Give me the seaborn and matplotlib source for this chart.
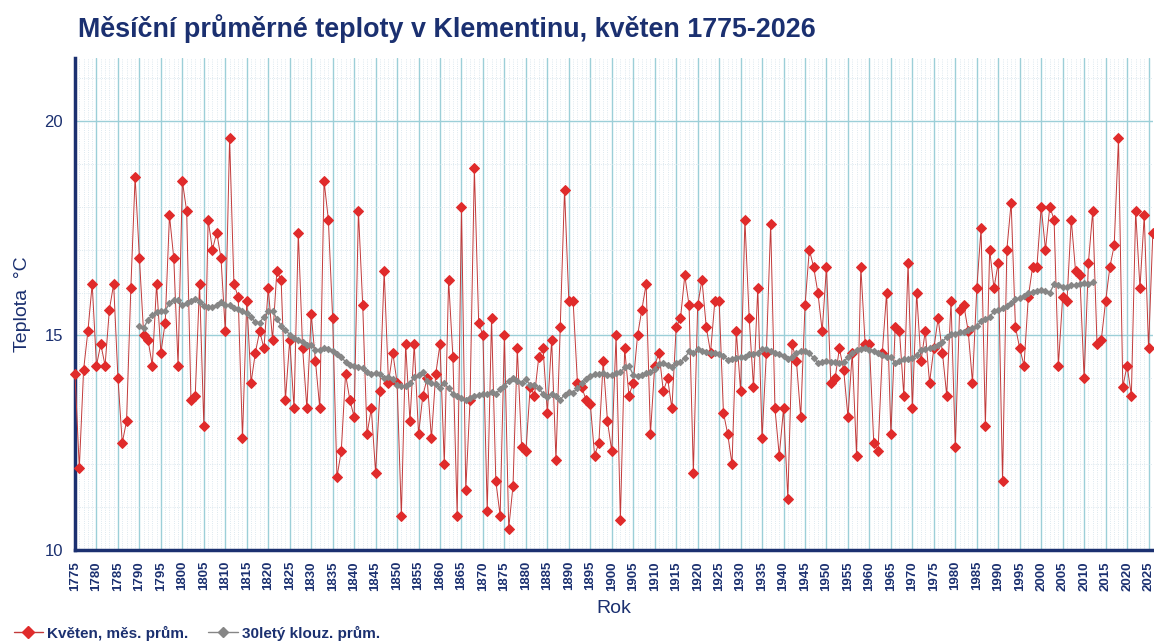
# Klementinum - květen, měsíční průměry a 30letý klouzavý průměr
import matplotlib
matplotlib.use('Agg')
import matplotlib.pyplot as plt
from matplotlib.ticker import MultipleLocator
from matplotlib.lines import Line2D
import pandas as pd
import seaborn as sns

# data
years = list(range(1775, 2027))
kveten = [
    14.1, 11.9, 14.2, 15.1, 16.2, 14.3, 14.8, 14.3, 15.6, 16.2,
    14.0, 12.5, 13.0, 16.1, 18.7, 16.8, 15.0, 14.9, 14.3, 16.2,
    14.6, 15.3, 17.8, 16.8, 14.3, 18.6, 17.9, 13.5, 13.6, 16.2,
    12.9, 17.7, 17.0, 17.4, 16.8, 15.1, 19.6, 16.2, 15.9, 12.6,
    15.8, 13.9, 14.6, 15.1, 14.7, 16.1, 14.9, 16.5, 16.3, 13.5,
    14.9, 13.3, 17.4, 14.7, 13.3, 15.5, 14.4, 13.3, 18.6, 17.7,
    15.4, 11.7, 12.3, 14.1, 13.5, 13.1, 17.9, 15.7, 12.7, 13.3,
    11.8, 13.7, 16.5, 13.9, 14.6, 13.9, 10.8, 14.8, 13.0, 14.8,
    12.7, 13.6, 14.0, 12.6, 14.1, 14.8, 12.0, 16.3, 14.5, 10.8,
    18.0, 11.4, 13.5, 18.9, 15.3, 15.0, 10.9, 15.4, 11.6, 10.8,
    15.0, 10.5, 11.5, 14.7, 12.4, 12.3, 13.8, 13.6, 14.5, 14.7,
    13.2, 14.9, 12.1, 15.2, 18.4, 15.8, 15.8, 13.9, 13.8, 13.5,
    13.4, 12.2, 12.5, 14.4, 13.0, 12.3, 15.0, 10.7, 14.7, 13.6,
    13.9, 15.0, 15.6, 16.2, 12.7, 14.3, 14.6, 13.7, 14.0, 13.3,
    15.2, 15.4, 16.4, 15.7, 11.8, 15.7, 16.3, 15.2, 14.6, 15.8,
    15.8, 13.2, 12.7, 12.0, 15.1, 13.7, 17.7, 15.4, 13.8, 16.1,
    12.6, 14.6, 17.6, 13.3, 12.2, 13.3, 11.2, 14.8, 14.4, 13.1,
    15.7, 17.0, 16.6, 16.0, 15.1, 16.6, 13.9, 14.0, 14.7, 14.2,
    13.1, 14.6, 12.2, 16.6, 14.8, 14.8, 12.5, 12.3, 14.6, 16.0,
    12.7, 15.2, 15.1, 13.6, 16.7, 13.3, 16.0, 14.4, 15.1, 13.9,
    14.7, 15.4, 14.6, 13.6, 15.8, 12.4, 15.6, 15.7, 15.1, 13.9,
    16.1, 17.5, 12.9, 17.0, 16.1, 16.7, 11.6, 17.0, 18.1, 15.2,
    14.7, 14.3, 15.9, 16.6, 16.6, 18.0, 17.0, 18.0, 17.7, 14.3,
    15.9, 15.8, 17.7, 16.5, 16.4, 14.0, 16.7, 17.9, 14.8, 14.9,
    15.8, 16.6, 17.1, 19.6, 13.8, 14.3, 13.6, 17.9, 16.1, 17.8,
    14.7, 17.4,
]

ma_years = list(range(1790, 2013))
ma_30 = [
    15.21, 15.17, 15.37, 15.47, 15.55, 15.56, 15.58, 15.75, 15.82, 15.83,
    15.71, 15.75, 15.81, 15.86, 15.79, 15.69, 15.66, 15.66, 15.71, 15.78,
    15.71, 15.71, 15.65, 15.61, 15.57, 15.52, 15.43, 15.31, 15.30, 15.44,
    15.57, 15.58, 15.39, 15.23, 15.13, 15.02, 14.94, 14.90, 14.84, 14.78,
    14.78, 14.67, 14.67, 14.70, 14.68, 14.65, 14.57, 14.49, 14.39, 14.32,
    14.28, 14.26, 14.24, 14.16, 14.10, 14.13, 14.10, 14.01, 14.04, 13.98,
    13.85, 13.83, 13.83, 13.89, 14.03, 14.08, 14.15, 13.93, 13.89, 13.86,
    13.77, 13.89, 13.77, 13.64, 13.59, 13.54, 13.50, 13.54, 13.59, 13.61,
    13.63, 13.64, 13.69, 13.64, 13.75, 13.83, 13.93, 14.01, 13.93, 13.89,
    13.98, 13.84, 13.85, 13.77, 13.64, 13.56, 13.64, 13.58, 13.50, 13.62,
    13.69, 13.67, 13.77, 13.89, 13.98, 14.06, 14.11, 14.11, 14.12, 14.07,
    14.07, 14.12, 14.14, 14.26, 14.29, 14.08, 14.06, 14.08, 14.12, 14.15,
    14.23, 14.34, 14.36, 14.32, 14.26, 14.36, 14.39, 14.47, 14.63, 14.60,
    14.68, 14.65, 14.62, 14.60, 14.59, 14.57, 14.53, 14.43, 14.46, 14.48,
    14.51, 14.51, 14.56, 14.58, 14.60, 14.68, 14.68, 14.63, 14.60, 14.56,
    14.53, 14.45, 14.51, 14.59, 14.63, 14.63, 14.59, 14.47, 14.37, 14.39,
    14.41, 14.39, 14.39, 14.37, 14.39, 14.49, 14.60, 14.67, 14.68, 14.70,
    14.67, 14.65, 14.60, 14.55, 14.49, 14.49, 14.36, 14.41, 14.45, 14.46,
    14.47, 14.55, 14.67, 14.68, 14.70, 14.73, 14.78, 14.86, 14.96, 15.04,
    15.04, 15.09, 15.07, 15.12, 15.17, 15.21, 15.33, 15.38, 15.44, 15.56,
    15.60, 15.64, 15.68, 15.75, 15.85, 15.87, 15.91, 15.99, 16.02, 16.03,
    16.05, 16.03, 15.99, 16.20, 16.18, 16.12, 16.14, 16.17, 16.18, 16.20,
    16.22, 16.20, 16.24,
]

navy = '#1b3070'
red_line = '#c23a3a'
red_mark = '#e02b2b'
gray = '#868686'

sns.set_style('white')
plt.rcParams['font.family'] = ['Liberation Sans', 'DejaVu Sans']

fig = plt.figure(figsize=(11.54, 6.44), dpi=100)
ax = fig.add_axes([0.065, 0.146, 0.934, 0.764])

df = pd.DataFrame({'rok': years, 'teplota': kveten})
df_ma = pd.DataFrame({'rok': ma_years, 'teplota': ma_30})

sns.lineplot(data=df, x='rok', y='teplota', ax=ax, color=red_line, lw=0.7,
             marker='D', markersize=4.6, markerfacecolor=red_mark,
             markeredgecolor=red_mark, zorder=3, clip_on=False)
sns.lineplot(data=df_ma, x='rok', y='teplota', ax=ax, color=gray, lw=1.0,
             marker='D', markersize=3.2, markerfacecolor=gray,
             markeredgecolor=gray, zorder=4)

ax.set_xlim(1775, 2026)
ax.set_ylim(10, 21.47)
ax.xaxis.set_major_locator(MultipleLocator(5))
ax.xaxis.set_minor_locator(MultipleLocator(1))
ax.yaxis.set_major_locator(MultipleLocator(5))
ax.yaxis.set_minor_locator(MultipleLocator(1))

ax.grid(True, which='major', color='#9ccfd8', lw=1.0)
ax.grid(True, which='minor', color='#d2e2ea', lw=0.6, linestyle=':')
ax.set_axisbelow(True)

for s in ['top', 'right']:
    ax.spines[s].set_visible(False)
for s in ['left', 'bottom']:
    ax.spines[s].set_color(navy)
    ax.spines[s].set_linewidth(2.5)

ax.tick_params(axis='x', which='major', direction='out', length=5, width=2.5,
               color=navy, labelcolor=navy, labelsize=9.5, rotation=90, pad=3)
ax.tick_params(axis='y', which='major', direction='out', length=5, width=2.5,
               color=navy, labelcolor=navy, labelsize=12)
ax.tick_params(which='minor', length=0)
for lab in ax.get_xticklabels():
    lab.set_fontweight('bold')

ax.set_xlabel('Rok', fontsize=14, color=navy)
ax.set_ylabel('Teplota  °C', fontsize=14, color=navy)
ax.xaxis.set_label_coords(0.50, -0.102)
ax.yaxis.set_label_coords(-0.041, 0.5)

fig.text(0.068, 0.956, 'Měsíční průměrné teploty v Klementinu, květen 1775-2026',
         fontsize=19.4, fontweight='bold', color=navy, ha='left', va='center')

handles = [
    Line2D([], [], color=red_line, lw=1.0, marker='D', markersize=6,
           markerfacecolor=red_mark, markeredgecolor=red_mark),
    Line2D([], [], color=gray, lw=1.0, marker='D', markersize=5,
           markerfacecolor=gray, markeredgecolor=gray),
]
leg = fig.legend(handles, ['Květen, měs. prům.', '30letý klouz. prům.'],
                 loc='center left', bbox_to_anchor=(0.0, 0.017), ncol=2,
                 frameon=False, handlelength=1.9, handletextpad=0.3,
                 columnspacing=1.3, prop={'weight': 'bold', 'size': 11})
for t in leg.get_texts():
    t.set_color(navy)

fig.savefig('out.png', dpi=100)
plt.close(fig)
